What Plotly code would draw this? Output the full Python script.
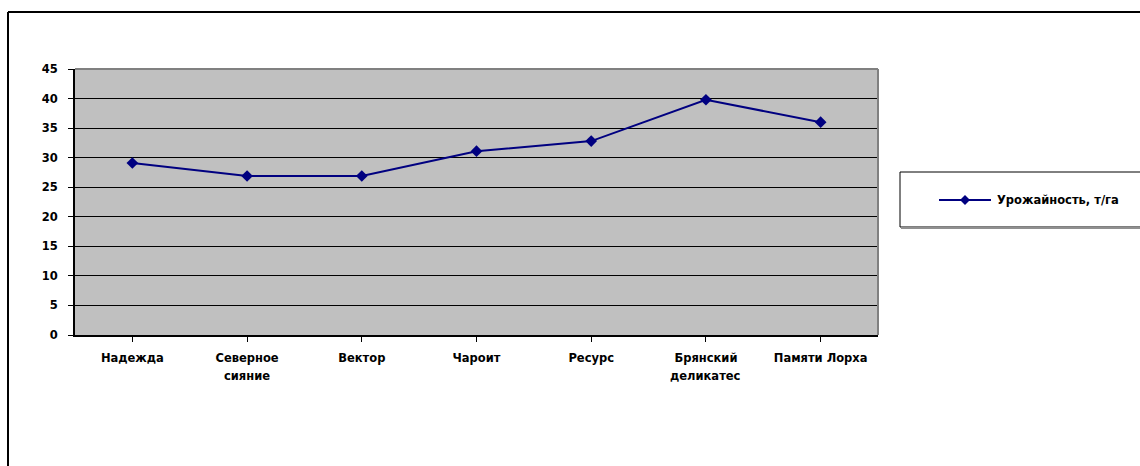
import plotly.graph_objects as go

# Сорта и урожайность
varieties = ["Надежда", "Северное сияние", "Вектор", "Чароит", "Ресурс",
             "Брянский деликатес", "Памяти Лорха"]
label_line1 = ["Надежда", "Северное", "Вектор", "Чароит", "Ресурс",
               "Брянский", "Памяти Лорха"]
label_line2 = ["", "сияние", "", "", "", "деликатес", ""]
yield_t_ha = [29.1, 26.9, 26.9, 31.1, 32.8, 39.8, 36.0]
y_ticks = [0, 5, 10, 15, 20, 25, 30, 35, 40, 45]
series_name = "Урожайность, т/га"

FONT = "DejaVu Sans"
FS = 11.5
NAVY = "#000080"

W, H = 1140, 466
L, R, T, B = 75, 878, 69, 335  # plot area edges in px


def px_x(x):
    return (x - L) / (R - L)


def px_y(y):
    return (B - y) / (B - T)


bold = dict(family=FONT, size=FS, color="#000000", weight="bold")

fig = go.Figure()
fig.add_trace(go.Scatter(
    x=list(range(len(varieties))),
    y=yield_t_ha,
    mode="lines+markers",
    name=series_name,
    line=dict(color=NAVY, width=2),
    marker=dict(symbol="diamond", size=9, color=NAVY),
    showlegend=False,
))

# second lines of the two-line category labels
annotations = [
    dict(x=i, xref="x", y=px_y(376), yref="paper", text=t, showarrow=False,
         font=bold, xanchor="center", yanchor="middle")
    for i, t in enumerate(label_line2) if t
]
# legend text
annotations.append(dict(
    x=px_x(995), xref="paper", y=px_y(200), yref="paper", text=series_name,
    showarrow=False, font=bold, xanchor="left", yanchor="middle"))

lx, ly = px_x(965), px_y(200)
shapes = [
    # plot area frame (top and right in gray)
    dict(type="line", xref="paper", yref="paper", x0=0, x1=1, y0=1, y1=1,
         line=dict(color="#808080", width=2)),
    dict(type="line", xref="paper", yref="paper", x0=1, x1=1, y0=0, y1=1,
         line=dict(color="#808080", width=2)),
    # outer chart frame
    dict(type="line", xref="paper", yref="paper",
         x0=px_x(8), x1=px_x(1200), y0=px_y(12), y1=px_y(12),
         line=dict(color="#000000", width=2)),
    dict(type="line", xref="paper", yref="paper",
         x0=px_x(8), x1=px_x(8), y0=px_y(12), y1=px_y(520),
         line=dict(color="#000000", width=2)),
    # legend box with a soft bottom shadow
    dict(type="line", xref="paper", yref="paper",
         x0=px_x(901), x1=px_x(1160), y0=px_y(228), y1=px_y(228),
         line=dict(color="#909090", width=2)),
    dict(type="rect", xref="paper", yref="paper",
         x0=px_x(900), x1=px_x(1160), y0=px_y(227), y1=px_y(172),
         line=dict(color="#000000", width=1), fillcolor="white", layer="below"),
    # legend sample line and diamond marker
    dict(type="line", xref="paper", yref="paper",
         x0=px_x(939), x1=px_x(991), y0=ly, y1=ly,
         line=dict(color=NAVY, width=2)),
    dict(type="path", xref="paper", yref="paper",
         xsizemode="pixel", ysizemode="pixel", xanchor=lx, yanchor=ly,
         path="M0,5 L5,0 L0,-5 L-5,0 Z",
         fillcolor=NAVY, line=dict(color=NAVY, width=0)),
]

fig.update_layout(
    width=W, height=H,
    margin=dict(l=L, r=W - R, t=T, b=H - B),
    paper_bgcolor="white",
    plot_bgcolor="#C0C0C0",
    font=dict(family=FONT, size=FS, color="#000000"),
    shapes=shapes,
    annotations=annotations,
    showlegend=False,
    xaxis=dict(
        range=[-0.5, len(varieties) - 0.5],
        tickvals=list(range(len(varieties))),
        ticktext=label_line1,
        tickson="boundaries",
        ticks="outside", ticklen=5, tickcolor="#000000", tickwidth=1,
        showgrid=False, zeroline=False,
        showline=True, linecolor="#000000", linewidth=2,
        tickfont=bold,
        ticklabelstandoff=6,
        fixedrange=True,
    ),
    yaxis=dict(
        range=[0, 45],
        tickvals=y_ticks,
        ticks="outside", ticklen=5, tickcolor="#000000", tickwidth=1,
        showgrid=True, gridcolor="#000000", gridwidth=1,
        zeroline=False,
        showline=True, linecolor="#000000", linewidth=2,
        tickfont=bold,
        ticklabelstandoff=8,
        fixedrange=True,
    ),
)

fig.write_html("out.html", config={"displayModeBar": False})
